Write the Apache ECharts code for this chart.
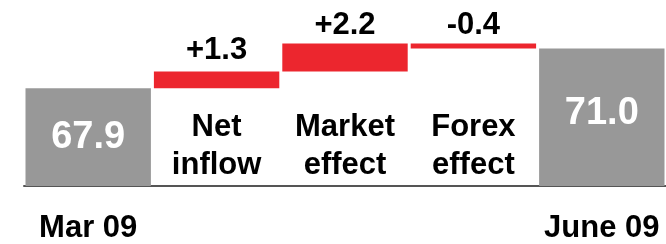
<!DOCTYPE html>
<html>
<head>
<meta charset="utf-8">
<script src="https://cdn.jsdelivr.net/npm/echarts@6/dist/echarts.min.js"></script>
<style>
  html, body { margin: 0; padding: 0; background: #fff; }
  #chart { width: 666px; height: 244px; }
</style>
</head>
<body>
<div id="chart"></div>
<script>
const categories = ["Mar 09", "Net\ninflow", "Market\neffect", "Forex\neffect", "June 09"];
const baseValues = [0, 67.9, 69.2, 71.0, 0];
const barValues = [67.9, 1.3, 2.2, 0.4, 71.0];
const valueLabels = ["67.9", "+1.3", "+2.2", "-0.4", "71.0"];
const isTotal = [true, false, false, false, true];

const GRAY = "#989898";
const RED = "#ec262e";
const FONT = "Liberation Sans";

const chart = echarts.init(document.getElementById("chart"));

const visibleData = barValues.map((v, i) => {
  if (isTotal[i]) {
    return {
      value: v,
      itemStyle: { color: GRAY },
      label: {
        show: true, position: "inside", offset: [0, i === 4 ? -4 : 0],
        formatter: valueLabels[i], color: "#fff", fontSize: 38, fontWeight: "bold", fontFamily: FONT,
      },
    };
  }
  return {
    value: v,
    itemStyle: { color: RED },
    label: {
      show: true, position: "top", distance: i === 1 ? 6 : 3,
      formatter: valueLabels[i], color: "#000", fontSize: 31, fontWeight: "bold", fontFamily: FONT,
    },
  };
});

chart.setOption({
  animation: false,
  grid: { left: 24, right: -6, top: 0, bottom: 58 },
  xAxis: {
    type: "category",
    data: categories,
    axisTick: { show: false },
    axisLine: { lineStyle: { color: "#555", width: 2 } },
    axisLabel: {
      margin: 27,
      interval: 0,
      color: "#000",
      fontSize: 31,
      fontWeight: "bold",
      fontFamily: FONT,
      formatter: (val, idx) => (isTotal[idx] ? val : ""),
    },
  },
  yAxis: { type: "value", min: 60.25, max: 74.8, show: false, splitLine: { show: false } },
  series: [
    {
      name: "base",
      type: "bar",
      stack: "wf",
      barCategoryGap: 3,
      clip: true,
      itemStyle: { color: "transparent" },
      data: baseValues,
      label: {
        show: true,
        position: "insideBottom",
        distance: 2,
        color: "#000",
        fontSize: 31,
        fontWeight: "bold",
        fontFamily: FONT,
        lineHeight: 38,
        formatter: (p) => (isTotal[p.dataIndex] ? "" : p.name),
      },
    },
    {
      name: "change",
      type: "bar",
      stack: "wf",
      barCategoryGap: 3,
      clip: true,
      data: visibleData,
    },
  ],
});
</script>
</body>
</html>
